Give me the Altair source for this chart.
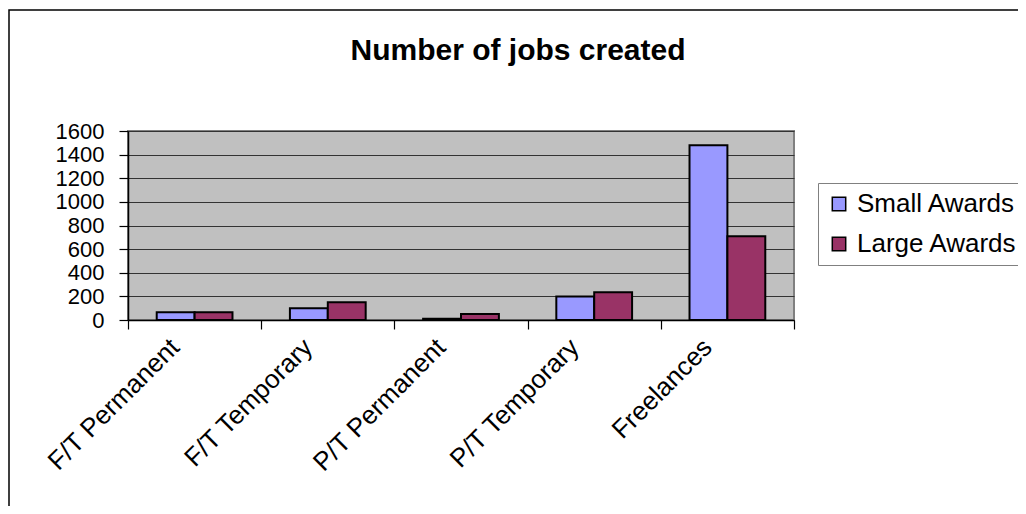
import altair as alt
import pandas as pd

title_text = "Number of jobs created"
categories = ["F/T Permanent", "F/T Temporary", "P/T Permanent", "P/T Temporary", "Freelances"]
series = ["Small Awards", "Large Awards"]
small_awards = [65, 100, 10, 200, 1480]
large_awards = [65, 150, 50, 235, 710]
y_ticks = [0, 200, 400, 600, 800, 1000, 1200, 1400, 1600]
colors = ["#9999FF", "#993366"]

rows = []
for c, s, l in zip(categories, small_awards, large_awards):
    rows.append({"category": c, "series": series[0], "value": s})
    rows.append({"category": c, "series": series[1], "value": l})
df = pd.DataFrame(rows)

W, H = 666, 189
FONT = "Liberation Sans"

x_enc = alt.X(
    "category:N",
    sort=categories,
    scale=alt.Scale(paddingInner=0, paddingOuter=0),
    axis=alt.Axis(
        title=None,
        labelAngle=-45,
        labelFontSize=26,
        labelFont=FONT,
        labelColor="black",
        labelAlign="right",
        labelBaseline="middle",
        labelPadding=14,
        labelOffset=-20,
        labelLimit=400,
        ticks=True,
        tickBand="extent",
        tickSize=9,
        tickColor="black",
        tickWidth=1.2,
        domainColor="black",
        domainWidth=1.5,
        grid=False,
    ),
)

y_enc = alt.Y(
    "value:Q",
    scale=alt.Scale(domain=[0, 1600], nice=False),
    axis=alt.Axis(
        values=y_ticks,
        format="d",
        title=None,
        labelFontSize=22,
        labelFont=FONT,
        labelColor="black",
        labelPadding=15,
        grid=True,
        gridColor="#333333",
        gridWidth=1.2,
        tickColor="black",
        tickSize=9,
        tickWidth=1.2,
        domainColor="black",
        domainWidth=1.5,
    ),
)

bars = alt.Chart(df).mark_bar(stroke="black", strokeWidth=2).encode(
    x=x_enc,
    xOffset=alt.XOffset(
        "series:N", sort=series, scale=alt.Scale(paddingInner=0, paddingOuter=0.758)
    ),
    y=y_enc,
    color=alt.Color(
        "series:N",
        sort=series,
        scale=alt.Scale(domain=series, range=colors),
        legend=alt.Legend(
            title=None,
            orient="none",
            legendX=690,
            legendY=52,
            symbolType="square",
            symbolSize=180,
            symbolStrokeColor="black",
            symbolStrokeWidth=1.5,
            labelFontSize=26,
            labelFont=FONT,
            labelColor="black",
            labelLimit=400,
            labelOffset=5,
            fillColor="white",
            strokeColor="#808080",
            padding=8,
            rowPadding=14,
        ),
    ),
)

border = alt.Chart(pd.DataFrame({"k": [0]})).mark_rect(
    fillOpacity=0, stroke="black", strokeWidth=1.5
).encode(
    x=alt.value(-119), y=alt.value(-121), x2=alt.value(W + 600), y2=alt.value(H + 600)
)

title = alt.Chart(pd.DataFrame({"t": [title_text]})).mark_text(
    font=FONT, fontSize=30, fontWeight="bold", align="center", baseline="alphabetic", color="black"
).encode(text="t:N", x=alt.value(390), y=alt.value(-71))

chart = alt.layer(border, bars, title).properties(
    width=W,
    height=H,
    padding={"left": 120, "top": 123, "right": 224, "bottom": 186},
    autosize=alt.AutoSizeParams(type="none"),
    background="white",
).configure_view(
    fill="#C0C0C0", stroke="#808080", strokeWidth=2
)

chart.save("out.html", embed_options={"renderer": "svg", "actions": False})
